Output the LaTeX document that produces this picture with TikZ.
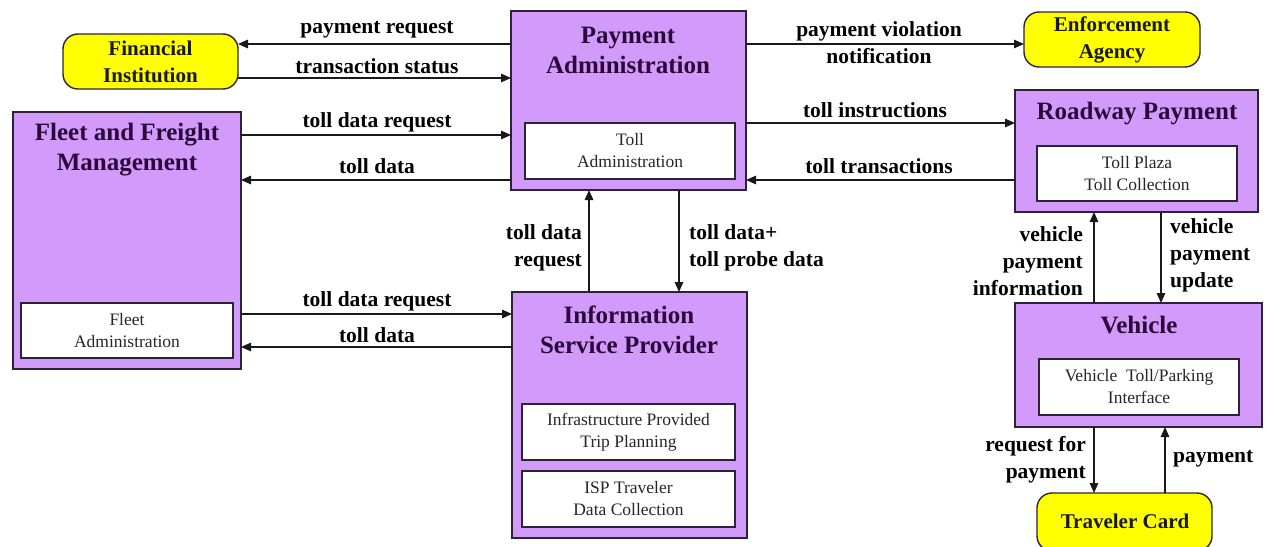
\documentclass[tikz,border=0pt]{standalone}
\usepackage{fontspec}
\setmainfont{Liberation Serif}
\usetikzlibrary{arrows.meta}
\definecolor{boxpurple}{RGB}{210,154,250}
\definecolor{titlecol}{RGB}{42,8,58}
\definecolor{cardyellow}{RGB}{255,255,0}
\definecolor{edgecol}{RGB}{25,25,25}
\definecolor{bordercol}{RGB}{45,35,55}
\begin{document}
\begin{tikzpicture}[x=1pt,y=-1pt,
  outerbox/.style={draw=bordercol, line width=1.4pt, fill=boxpurple, anchor=north west, inner sep=0pt, outer sep=0pt},
  innerbox/.style={draw=bordercol, line width=1.4pt, fill=white, anchor=north west, inner sep=0pt, outer sep=0pt},
  ybox/.style={draw=bordercol, line width=1.4pt, fill=cardyellow, rounded corners=15pt, anchor=north west, inner sep=0pt, outer sep=0pt},
  titletext/.style={text=titlecol, font=\fontsize{25}{30}\selectfont\bfseries, align=center, inner sep=0pt},
  innertext/.style={text=black!85, font=\fontsize{17.5}{22}\selectfont, align=center, inner sep=0pt},
  ytext/.style={text=black!90, font=\fontsize{21}{27}\selectfont\bfseries, align=center, inner sep=0pt},
  lbl/.style={text=black, font=\fontsize{21.5}{27}\selectfont\bfseries, inner sep=0pt},
  arr/.style={draw=edgecol, line width=1.4pt, -{Triangle[length=10pt,width=8.5pt]}}
]
\useasboundingbox (0,0) rectangle (1265,546);

% ---- outer boxes ----
\node[ybox, minimum width=175pt, minimum height=55pt] (FI) at (63,34) {};
\node[ybox, minimum width=176pt, minimum height=55pt] (EA) at (1024,12) {};
\node[ybox, minimum width=175pt, minimum height=58pt] (TC) at (1037,493) {};

\node[outerbox, minimum width=235pt, minimum height=179pt] (PA) at (511,11) {};
\node[innerbox, minimum width=210pt, minimum height=56pt] (TA) at (525,123) {};

\node[outerbox, minimum width=243pt, minimum height=122pt] (RP) at (1015,90) {};
\node[innerbox, minimum width=200pt, minimum height=55pt] (TP) at (1037,146) {};

\node[outerbox, minimum width=228pt, minimum height=257pt] (FF) at (13,112) {};
\node[innerbox, minimum width=212pt, minimum height=55pt] (FA) at (21,303) {};

\node[outerbox, minimum width=235pt, minimum height=246pt] (ISP) at (512,292) {};
\node[innerbox, minimum width=213pt, minimum height=56pt] (IP) at (522,404) {};
\node[innerbox, minimum width=213pt, minimum height=56pt] (ID) at (522,471) {};

\node[outerbox, minimum width=247pt, minimum height=124pt] (VE) at (1015,303) {};
\node[innerbox, minimum width=200pt, minimum height=56pt] (VI) at (1039,359) {};

% ---- texts in boxes ----
\node[ytext] (FIt) at (FI.center) {Financial\\Institution};
\node[ytext] (EAt) at (EA.center) {Enforcement\\Agency};
\node[ytext] (TCt) at (1125,521) {Traveler Card};

\node[titletext] (PAt) at (628,50) {Payment\\Administration};
\node[innertext] (TAt) at (TA.center) {Toll\\Administration};
\node[titletext] (RPt) at (1137,114) {Roadway Payment};
\node[innertext] (TPt) at (TP.center) {Toll Plaza\\Toll Collection};
\node[titletext] (FFt) at (127,150) {Fleet and Freight\\Management};
\node[innertext] (FAt) at (FA.center) {Fleet\\Administration};
\node[titletext] (ISPt) at (629,330) {Information\\Service Provider};
\node[innertext] (IPt) at (IP.center) {Infrastructure Provided\\Trip Planning};
\node[innertext] (IDt) at (ID.center) {ISP Traveler\\Data Collection};
\node[titletext] (VEt) at (1139,325) {Vehicle};
\node[innertext] (VIt) at (VI.center) {Vehicle\ \ Toll/Parking\\Interface};

% ---- connectors ----
\draw[arr] (PA.west |- 0,44) -- (FI.east |- 0,44);
\draw[arr] (FI.east |- 0,78) -- (PA.west |- 0,78);
\draw[arr] (FF.east |- 0,135) -- (PA.west |- 0,135);
\draw[arr] (PA.west |- 0,180) -- (FF.east |- 0,180);
\draw[arr] (FF.east |- 0,314) -- (ISP.west |- 0,314);
\draw[arr] (ISP.west |- 0,347) -- (FF.east |- 0,347);
\draw[arr] (ISP.north -| 589,0) -- (PA.south -| 589,0);
\draw[arr] (PA.south -| 679,0) -- (ISP.north -| 679,0);
\draw[arr] (PA.east |- 0,44) -- (EA.west |- 0,44);
\draw[arr] (PA.east |- 0,123) -- (RP.west |- 0,123);
\draw[arr] (RP.west |- 0,180) -- (PA.east |- 0,180);
\draw[arr] (VE.north -| 1094,0) -- (RP.south -| 1094,0);
\draw[arr] (RP.south -| 1161,0) -- (VE.north -| 1161,0);
\draw[arr] (VE.south -| 1094,0) -- (TC.north -| 1094,0);
\draw[arr] (TC.north -| 1165,0) -- (VE.south -| 1165,0);

% ---- connector labels ----
\node[lbl] (l1) at (377,30) {payment request};
\node[lbl] (l2) at (377,66) {transaction status};
\node[lbl] (l3) at (377,122) {toll data request};
\node[lbl] (l4) at (377,166) {toll data};
\node[lbl] (l5) at (377,301) {toll data request};
\node[lbl] (l6) at (377,335) {toll data};
\node[lbl, anchor=east, align=right] (l7) at (582,248) {toll data\\request};
\node[lbl, anchor=west, align=left] (l8) at (689,248) {toll data+\\toll probe data};
\node[lbl, align=center] (l9) at (879,43) {payment violation\\notification};
\node[lbl] (l10) at (875,110) {toll instructions};
\node[lbl] (l11) at (879,166) {toll transactions};
\node[lbl, anchor=east, align=right] (l12) at (1083,261) {vehicle\\payment\\information};
\node[lbl, anchor=west, align=left] (l13) at (1170,255) {vehicle\\payment\\update};
\node[lbl, anchor=east, align=right] (l14) at (1086,460) {request for\\payment};
\node[lbl, anchor=west] (l15) at (1173,459) {payment};
\end{tikzpicture}
\end{document}
